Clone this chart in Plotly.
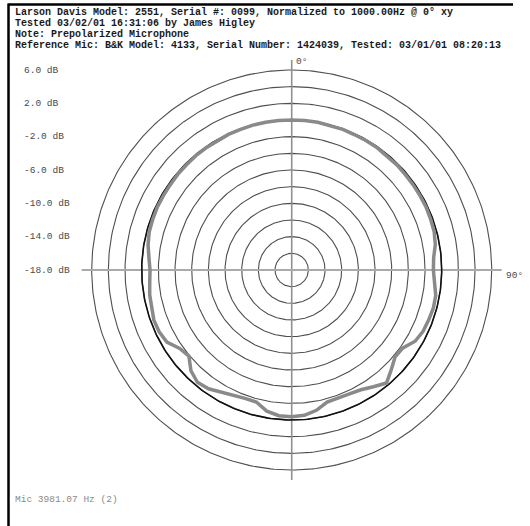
import numpy as np
import plotly.graph_objects as go

# Measured response, dB re 0 deg, sampled every 5 degrees (0 deg = top, clockwise)
angles_deg = list(range(0, 360, 5))
level_db = [
    0.0, 0.0, 0.0, -0.05, -0.05, -0.1, -0.1, -0.1, -0.15, -0.15,
    -0.2, -0.2, -0.2, -0.2, -0.25, -0.3, -0.5, -0.9, -1.0, -0.8,
    -0.45, -0.4, -0.5, -0.6, -0.9, -1.7, -1.8, -1.1, -0.3, -0.9,
    -1.4, -1.6, -1.7, -1.6, -0.9, -0.5, -0.4, -0.45, -0.8, -1.6,
    -1.6, -1.4, -1.0, -0.6, -0.4, -0.9, -1.9, -1.6, -0.7, -0.45,
    -0.4, -0.6, -0.7, -0.9, -1.0, -0.8, -0.5, -0.3, -0.25, -0.2,
    -0.2, -0.2, -0.15, -0.15, -0.1, -0.1, -0.1, -0.05, -0.05, 0.0,
    0.0, 0.0,
]
reference_db = 0.0

# Radial scale: centre of the plot is -18 dB, outer ring +6 dB, 2 dB per ring
db_min = -18.0
db_max = 6.0
ring_db = [-16, -14, -12, -10, -8, -6, -4, -2, 0, 2, 4, 6]
label_db = [6, 2, -2, -6, -10, -14, -18]
axis_overhang_db = 1.2

header_lines = [
    "Larson Davis Model: 2551, Serial #: 0099, Normalized to 1000.00Hz @ 0° xy",
    "Tested 03/02/01 16:31:06 by James Higley",
    "Note: Prepolarized Microphone",
    "Reference Mic: B&K Model: 4133, Serial Number: 1424039, Tested: 03/01/01 08:20:13",
]
footer_text = "Mic 3981.07 Hz (2)"

W, H = 530, 526
cx_px, cy_px = 291.7, 270.0
outer_px = 200.0
px_per_unit = outer_px / (db_max - db_min)


def to_xy(db_values, ang_deg):
    r = np.asarray(db_values, dtype=float) - db_min
    t = np.radians(np.asarray(ang_deg, dtype=float))
    return r * np.sin(t), r * np.cos(t)


fig = go.Figure()

# concentric rings
ring_t = np.arange(0, 361, 1)
for d in ring_db:
    x, y = to_xy(np.full(ring_t.shape, d), ring_t)
    fig.add_trace(go.Scatter(x=x, y=y, mode="lines",
                             line=dict(color="#4f4f4f", width=1.1),
                             hoverinfo="skip", showlegend=False))

# cross-hair axes through the centre
ext = db_max - db_min + axis_overhang_db
fig.add_trace(go.Scatter(x=[0, 0], y=[ext, -ext], mode="lines",
                         line=dict(color="#8f8f8f", width=1.6),
                         hoverinfo="skip", showlegend=False))
fig.add_trace(go.Scatter(x=[-ext, ext], y=[0, 0], mode="lines",
                         line=dict(color="#aaaaaa", width=2),
                         hoverinfo="skip", showlegend=False))

# reference circle (0 dB)
x, y = to_xy(np.full(ring_t.shape, reference_db), ring_t)
fig.add_trace(go.Scatter(x=x, y=y, mode="lines",
                         line=dict(color="#111111", width=1.6),
                         hoverinfo="skip", showlegend=False))

# measured response, closed
a = angles_deg + [angles_deg[0] + 360]
v = level_db + [level_db[0]]
x, y = to_xy(v, a)
fig.add_trace(go.Scatter(x=x, y=y, mode="lines",
                         line=dict(color="#8a8a8a", width=3.5, shape="linear"),
                         hoverinfo="skip", showlegend=False))

mono = "Liberation Mono"
annotations = []
for i, line in enumerate(header_lines):
    annotations.append(dict(
        text=f"<b>{line}</b>", xref="paper", yref="paper",
        x=13 / W, y=1 - (12.5 + 11 * i) / H,
        xanchor="left", yanchor="middle", showarrow=False,
        font=dict(family=mono, size=10, color="#1a1a1a")))

label_x = (22 - cx_px) / px_per_unit
for d in label_db:
    annotations.append(dict(
        text=f"{d:.1f} dB", xref="x", yref="y",
        x=label_x, y=d - db_min,
        xanchor="left", yanchor="middle", showarrow=False,
        font=dict(family=mono, size=9.5, color="#4a4a4a")))

annotations.append(dict(
    text="0°", xref="x", yref="y", x=0.3, y=ext - 0.2,
    xanchor="left", yanchor="middle", showarrow=False,
    font=dict(family=mono, size=9.5, color="#4a4a4a")))
annotations.append(dict(
    text="90°", xref="x", yref="y", x=ext + 0.3, y=-0.6,
    xanchor="left", yanchor="middle", showarrow=False,
    font=dict(family=mono, size=9.5, color="#4a4a4a")))
annotations.append(dict(
    text=footer_text, xref="paper", yref="paper",
    x=13 / W, y=1 - 499 / H,
    xanchor="left", yanchor="middle", showarrow=False,
    font=dict(family=mono, size=9.5, color="#8a8a8a")))

# page frame: left and top edges
shapes = [
    dict(type="line", xref="paper", yref="paper",
         x0=8.5 / W, x1=8.5 / W, y0=0, y1=1 - 3.5 / H,
         line=dict(color="#000000", width=2.5)),
    dict(type="line", xref="paper", yref="paper",
         x0=8.5 / W, x1=513 / W, y0=1 - 4.5 / H, y1=1 - 4.5 / H,
         line=dict(color="#000000", width=2.5)),
]

x_range = [(0 - cx_px) / px_per_unit, (W - cx_px) / px_per_unit]
y_range = [(cy_px - H) / px_per_unit, cy_px / px_per_unit]

fig.update_layout(
    width=W, height=H,
    margin=dict(l=0, r=0, t=0, b=0),
    paper_bgcolor="white", plot_bgcolor="white",
    xaxis=dict(range=x_range, visible=False, fixedrange=True),
    yaxis=dict(range=y_range, visible=False, fixedrange=True),
    annotations=annotations, shapes=shapes,
    showlegend=False,
)

fig.write_html("out.html")
